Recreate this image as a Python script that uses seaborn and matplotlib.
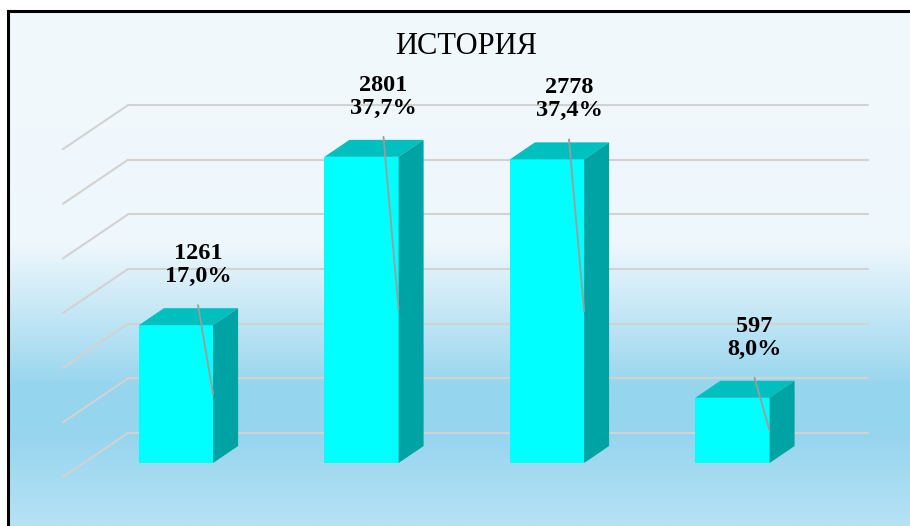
import numpy as np
import pandas as pd
import matplotlib
matplotlib.use('Agg')
import matplotlib.pyplot as plt
from matplotlib.colors import LinearSegmentedColormap
from matplotlib.patches import Polygon
import seaborn as sns

# chart data
title = 'ИСТОРИЯ'
groups = ['1', '2', '3', '4']
counts = [1261, 2801, 2778, 597]
shares = [17.0, 37.7, 37.4, 8.0]
grid_values = [0, 500, 1000, 1500, 2000, 2500, 3000]

df = pd.DataFrame({'group': groups, 'count': counts})

sns.set_theme(style='white')
plt.rcParams['font.family'] = ['Liberation Serif', 'DejaVu Serif']

W, H = 910, 526
fig = plt.figure(figsize=(W / 100, H / 100), dpi=100)

# pixel layout of the reference
KY = 0.1093          # px per unit of count
KX = 185.5           # px between bars
X0, Y0 = 176, 463    # px of first bar centre / floor of front faces


def px_x(p):
    return (p - X0) / KX


def px_dy(p):
    return p / KY


# background gradient with black frame on top / left
bg = fig.add_axes([8 / W, 0, 1 - 8 / W, (H - 11) / H])
stops = [(0.0, '#F2F9FD'), ((245 - 11) / 515, '#EEF7FC'), ((390 - 11) / 515, '#95D5EE'),
         ((440 - 11) / 515, '#98D6EF'), (1.0, '#B6E2F5')]
cmap = LinearSegmentedColormap.from_list('bg', stops)
bg.imshow(np.linspace(0, 1, 256).reshape(-1, 1), cmap=cmap, aspect='auto',
          extent=[0, 1, 0, 1], interpolation='bilinear')
bg.set_xticks([])
bg.set_yticks([])
for side in ['right', 'bottom']:
    bg.spines[side].set_visible(False)
for side in ['top', 'left']:
    bg.spines[side].set_color('black')
    bg.spines[side].set_linewidth(2.2)

ax = fig.add_axes([0, 0, 1, 1])
ax.patch.set_alpha(0)

# back wall grid with perspective lines
wall_off = px_dy(30)
wall_left, wall_right, floor_left = px_x(128), px_x(868), px_x(63)
drop = px_dy(44)
for v in grid_values:
    ax.plot([wall_left, wall_right], [v + wall_off, v + wall_off], color='#D2D2D2', lw=1.5, zorder=1)
    ax.plot([floor_left, wall_left], [v + wall_off - drop, v + wall_off], color='#D2D2D2', lw=1.5, zorder=1)

sns.barplot(data=df, x='group', y='count', color='#00FFFF', saturation=1, width=0.4,
            ax=ax, zorder=3, errorbar=None, linewidth=0, edgecolor='none')

dx, dy = 25 / KX, px_dy(17)
for p in ax.patches:
    x0, w, h = p.get_x(), p.get_width(), p.get_height()
    top = Polygon([(x0, h), (x0 + w, h), (x0 + w + dx, h + dy), (x0 + dx, h + dy)],
                  closed=True, facecolor='#00BFBF', edgecolor='none', zorder=3)
    side = Polygon([(x0 + w, 0), (x0 + w + dx, dy), (x0 + w + dx, h + dy), (x0 + w, h)],
                   closed=True, facecolor='#00A3A3', edgecolor='none', zorder=3)
    ax.add_patch(top)
    ax.add_patch(side)

# data labels with leader lines
for i, (c, s) in enumerate(zip(counts, shares)):
    lx = i + 22 / KX
    ly = c + px_dy(60)
    ax.text(lx, ly, f'{c}\n{s:.1f}%'.replace('.', ','), ha='center', va='center',
            fontsize=17.5, fontweight='bold', color='black', linespacing=1.12, zorder=5)
    ax.plot([lx, i + 0.2], [ly - px_dy(40), c / 2], color='#9C9C9C', lw=1.3, zorder=4)

ax.text(px_x(466), px_dy(Y0 - 46), title, ha='center', va='center', fontsize=22, color='black')

ax.set_xlim(px_x(0), px_x(W))
ax.set_ylim(-px_dy(H - Y0), px_dy(Y0))
ax.axis('off')

fig.savefig('out.png', dpi=100)
